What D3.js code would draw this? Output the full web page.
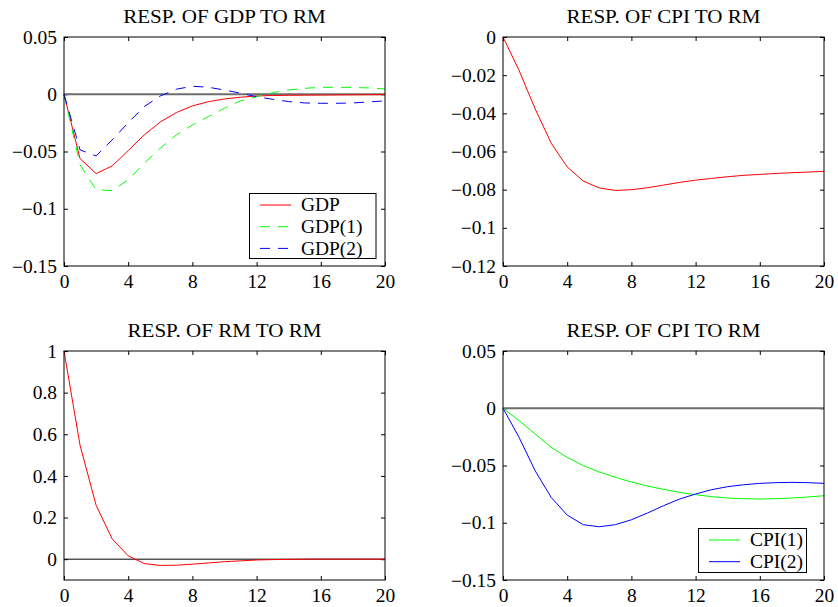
<!DOCTYPE html>
<html>
<head>
<meta charset="utf-8">
<script src="https://cdn.jsdelivr.net/npm/d3@7"></script>
<style>
  body { margin: 0; background: #fff; }
  text { font-family: "Liberation Serif", "Times New Roman", serif; fill: #000; }
</style>
</head>
<body>
<svg id="chart" width="838" height="607"></svg>
<script>
// impulse responses, periods 0..20
const periods = [0, 1, 2, 3, 4, 5, 6, 7, 8, 9, 10, 11, 12, 13, 14, 15, 16, 17, 18, 19, 20];

const gdp  = [0, -0.0562, -0.0693, -0.0626, -0.0492, -0.0355, -0.0242, -0.0160, -0.0102, -0.0065, -0.0041,
              -0.0026, -0.0015, -0.0011, -0.0009, -0.0008, -0.0007, -0.0006, -0.0005, -0.0004, -0.0003];
const gdp1 = [0, -0.0617, -0.0835, -0.0841, -0.0748, -0.0603, -0.0471, -0.0355, -0.0268, -0.0195, -0.0122,
              -0.0058, -0.0021, 0.0014, 0.0037, 0.0052, 0.0060, 0.0061, 0.0060, 0.0055, 0.0046];
const gdp2 = [0, -0.0486, -0.0539, -0.0399, -0.0248, -0.0108, -0.0015, 0.0044, 0.0070, 0.0061, 0.0037,
              0.0009, -0.0021, -0.0044, -0.0064, -0.0076, -0.0079, -0.0079, -0.0076, -0.0067, -0.0058];

const cpi  = [0, -0.0175, -0.0376, -0.0556, -0.0681, -0.0755, -0.0791, -0.0804, -0.0800, -0.0790, -0.0776,
              -0.0762, -0.0750, -0.0741, -0.0732, -0.0725, -0.0720, -0.0715, -0.0711, -0.0708, -0.0704];

const rm   = [1, 0.547, 0.259, 0.098, 0.016, -0.021, -0.030, -0.029, -0.024, -0.018, -0.012,
              -0.008, -0.004, -0.002, -0.001, 0, 0.0005, 0.0005, 0.0004, 0.0003, 0.0002];

const cpi1 = [0, -0.0108, -0.0224, -0.0341, -0.0429, -0.0501, -0.0557, -0.0603, -0.0644, -0.0679, -0.0708,
              -0.0735, -0.0755, -0.0772, -0.0784, -0.0790, -0.0793, -0.0790, -0.0784, -0.0775, -0.0764];
const cpi2 = [0, -0.0254, -0.0545, -0.0778, -0.0933, -0.1017, -0.1035, -0.1017, -0.0974, -0.0915, -0.0851,
              -0.0793, -0.0749, -0.0711, -0.0685, -0.0668, -0.0656, -0.0650, -0.0647, -0.0650, -0.0656];

const xTicks = [0, 4, 8, 12, 16, 20];
const yTicksGdp = [-0.15, -0.1, -0.05, 0, 0.05];
const yTicksCpi = [-0.12, -0.1, -0.08, -0.06, -0.04, -0.02, 0];
const yTicksRm  = [0, 0.2, 0.4, 0.6, 0.8, 1];

const titles = ["RESP. OF GDP TO RM", "RESP. OF CPI TO RM", "RESP. OF RM TO RM", "RESP. OF CPI TO RM"];

// figure looks a little stretched sideways, so text is too
const fs = 18, fsTitle = 19.5, sx = 1.08;
const W = 321, H = 229;

const panels = [
  { title: titles[0], left: 64,  top: 37,  yDomain: [-0.15, 0.05], yTicks: yTicksGdp, zero: "#6e6e6e", zeroW: 2,
    series: [
      { name: "GDP",    values: gdp,  color: "#ff0000", dash: null },
      { name: "GDP(1)", values: gdp1, color: "#00ff00", dash: "10,8" },
      { name: "GDP(2)", values: gdp2, color: "#0000ff", dash: "10,8" }
    ],
    legend: { x: 249.5, y: 193.5, w: 126.5, h: 65, row0: 205, step: 21.7 } },
  { title: titles[1], left: 503, top: 37,  yDomain: [-0.12, 0], yTicks: yTicksCpi, zero: null,
    series: [ { name: "CPI", values: cpi, color: "#ff0000", dash: null } ] },
  { title: titles[2], left: 64,  top: 351, yDomain: [-0.1, 1], yTicks: yTicksRm, zero: "#000", zeroW: 1,
    series: [ { name: "RM", values: rm, color: "#ff0000", dash: null } ] },
  { title: titles[3], left: 503, top: 351, yDomain: [-0.15, 0.05], yTicks: yTicksGdp, zero: "#6e6e6e", zeroW: 2,
    series: [
      { name: "CPI(1)", values: cpi1, color: "#00ff00", dash: null },
      { name: "CPI(2)", values: cpi2, color: "#0000ff", dash: null }
    ],
    legend: { x: 698.5, y: 528.5, w: 108, h: 44, row0: 540, step: 21.7 } }
];

const fmt = d => d === 0 ? "0" : (d < 0 ? "\u2212" : "") + String(+Math.abs(d).toFixed(2));

const svg = d3.select("#chart");

function label(g, X, Y, txt, anchor, size) {
  return g.append("text")
    .attr("x", X / sx).attr("y", Y)
    .attr("transform", `scale(${sx},1)`)
    .attr("text-anchor", anchor || "start")
    .style("font-size", (size || fs) + "px")
    .text(txt);
}

panels.forEach(p => {
  const x = d3.scaleLinear().domain([0, 20]).range([0, W]);
  const y = d3.scaleLinear().domain(p.yDomain).range([H, 0]);

  const g = svg.append("g").attr("transform", `translate(${p.left},${p.top})`);

  // inward ticks on all four sides
  const left = g.append("g").call(d3.axisLeft(y).tickValues(p.yTicks).tickSizeInner(-4).tickSizeOuter(0).tickFormat(fmt));
  const bottom = g.append("g").attr("transform", `translate(0,${H})`)
    .call(d3.axisBottom(x).tickValues(xTicks).tickSizeInner(-4).tickSizeOuter(0));
  g.append("g").attr("transform", `translate(${W},0)`)
    .call(d3.axisRight(y).tickValues(p.yTicks).tickSizeInner(-4).tickSizeOuter(0).tickFormat(""));
  g.append("g").call(d3.axisTop(x).tickValues(xTicks).tickSizeInner(-4).tickSizeOuter(0).tickFormat(""));

  g.selectAll(".domain").remove();
  g.selectAll(".tick line").attr("stroke", "#000");

  left.selectAll(".tick text")
    .attr("x", -7 / sx).attr("dy", "0.34em")
    .attr("transform", `scale(${sx},1)`)
    .style("font-size", fs + "px");
  bottom.selectAll(".tick text")
    .attr("x", 0).attr("y", 9).attr("dy", "0.71em")
    .attr("transform", `scale(${sx},1)`)
    .style("font-size", fs + "px");
  left.attr("font-family", null).attr("font-size", null);
  bottom.attr("font-family", null).attr("font-size", null);

  if (p.zero) {
    g.append("line")
      .attr("x1", 0).attr("x2", W)
      .attr("y1", y(0)).attr("y2", y(0))
      .attr("stroke", p.zero).attr("stroke-width", p.zeroW);
  }

  const line = d3.line().x((d, i) => x(periods[i])).y(d => y(d));
  p.series.forEach(s => {
    g.append("path")
      .datum(s.values)
      .attr("d", line)
      .attr("fill", "none")
      .attr("stroke", s.color)
      .attr("stroke-width", 1)
      .attr("stroke-dasharray", s.dash);
  });

  g.append("rect")
    .attr("x", 0).attr("y", 0).attr("width", W).attr("height", H)
    .attr("fill", "none").attr("stroke", "#000").attr("stroke-width", 1);

  label(svg, p.left + W / 2, p.top - 14, p.title, "middle", fsTitle);

  if (p.legend) {
    const L = p.legend;
    svg.append("rect")
      .attr("x", L.x).attr("y", L.y).attr("width", L.w).attr("height", L.h)
      .attr("fill", "#fff").attr("stroke", "#000").attr("stroke-width", 1);
    p.series.forEach((s, i) => {
      const cy = L.row0 + i * L.step;
      svg.append("line")
        .attr("x1", L.x + 10.5).attr("x2", L.x + 41.5)
        .attr("y1", cy).attr("y2", cy)
        .attr("stroke", s.color).attr("stroke-width", 1)
        .attr("stroke-dasharray", s.dash);
      label(svg, L.x + 51.5, cy, s.name).attr("dy", "0.34em");
    });
  }
});
</script>
</body>
</html>
